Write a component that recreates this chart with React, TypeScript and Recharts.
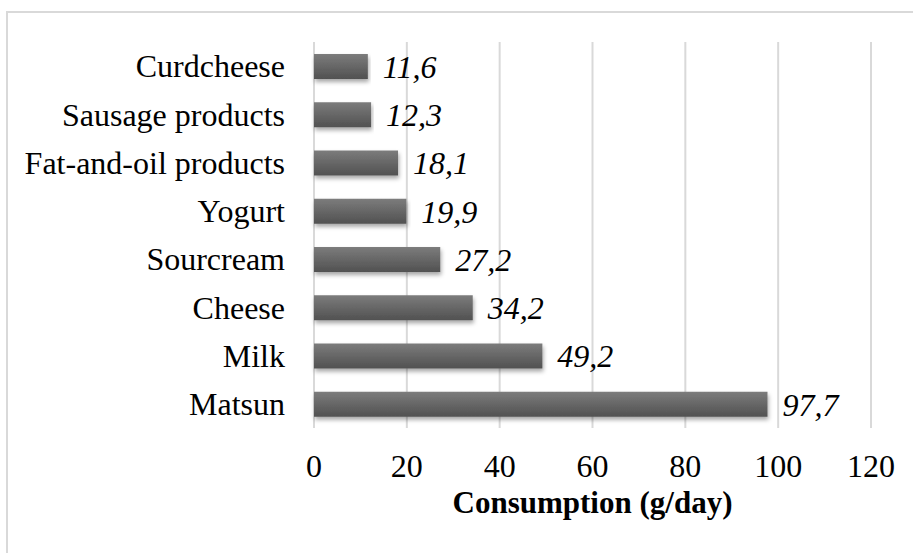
import { BarChart, Bar, XAxis, YAxis, CartesianGrid, LabelList } from 'recharts';

// food groups, top to bottom as in the figure
const categories = [
  'Curdcheese',
  'Sausage products',
  'Fat-and-oil products',
  'Yogurt',
  'Sourcream',
  'Cheese',
  'Milk',
  'Matsun',
];
const consumption = [11.6, 12.3, 18.1, 19.9, 27.2, 34.2, 49.2, 97.7];
const xTicks = [0, 20, 40, 60, 80, 100, 120];

const data = categories.map((name, i) => ({ name, value: consumption[i] }));

const FONT = "'Liberation Serif', 'Times New Roman', serif";

export default function App() {
  return (
    <div style={{ position: 'absolute', left: 0, top: 0, width: 913, height: 553, background: '#fff', overflow: 'hidden', fontFamily: FONT }}>
      <style>{`.recharts-wrapper text, .recharts-wrapper tspan { font-family: ${FONT} !important; }`}</style>
      {/* gradient + shadow for the bars */}
      <svg width={0} height={0} style={{ position: 'absolute' }}>
        <defs>
          <linearGradient id="barGrad" x1="0" y1="0" x2="0" y2="1">
            <stop offset="0%" stopColor="#7c7c7c" />
            <stop offset="100%" stopColor="#515151" />
          </linearGradient>
          <filter id="barShadow" x="-5%" y="-20%" width="110%" height="160%">
            <feDropShadow dx="1" dy="3" stdDeviation="2" floodColor="#000" floodOpacity="0.35" />
          </filter>
        </defs>
      </svg>

      {/* chart frame */}
      <div style={{ position: 'absolute', left: 6, top: 11, width: 940, height: 600, border: '2px solid #d9d9d9', boxSizing: 'border-box' }} />

      <div style={{ position: 'absolute', left: 0, top: 0 }}>
        <BarChart
          width={913}
          height={553}
          data={data}
          layout="vertical"
          margin={{ top: 42, right: 42, bottom: 0, left: 0 }}
          barSize={25}
          style={{ fontFamily: FONT }}
        >
          <CartesianGrid horizontal={false} stroke="#d9d9d9" strokeWidth={2} />
          <XAxis
            type="number"
            domain={[0, 120]}
            ticks={xTicks}
            height={125}
            axisLine={false}
            tickLine={false}
            tickSize={0}
            tickMargin={26}
            tick={{ fontSize: 32, fill: '#000', fontFamily: FONT }}
            label={{
              value: 'Consumption (g/day)',
              position: 'insideBottom',
              offset: 40,
              style: { fontSize: 31, fontWeight: 'bold', fill: '#000', fontFamily: FONT },
            }}
          />
          <YAxis
            type="category"
            dataKey="name"
            width={314}
            axisLine={false}
            tickLine={false}
            tickSize={0}
            tickMargin={29}
            tick={{ fontSize: 32, fill: '#000', fontFamily: FONT }}
          />
          <Bar dataKey="value" fill="url(#barGrad)" filter="url(#barShadow)" isAnimationActive={false}>
            <LabelList
              dataKey="value"
              position="right"
              offset={15}
              formatter={(v: number) => String(v).replace('.', ',')}
              style={{ fontSize: 32, fontStyle: 'italic', fill: '#000', fontFamily: FONT }}
            />
          </Bar>
        </BarChart>
      </div>
    </div>
  );
}
